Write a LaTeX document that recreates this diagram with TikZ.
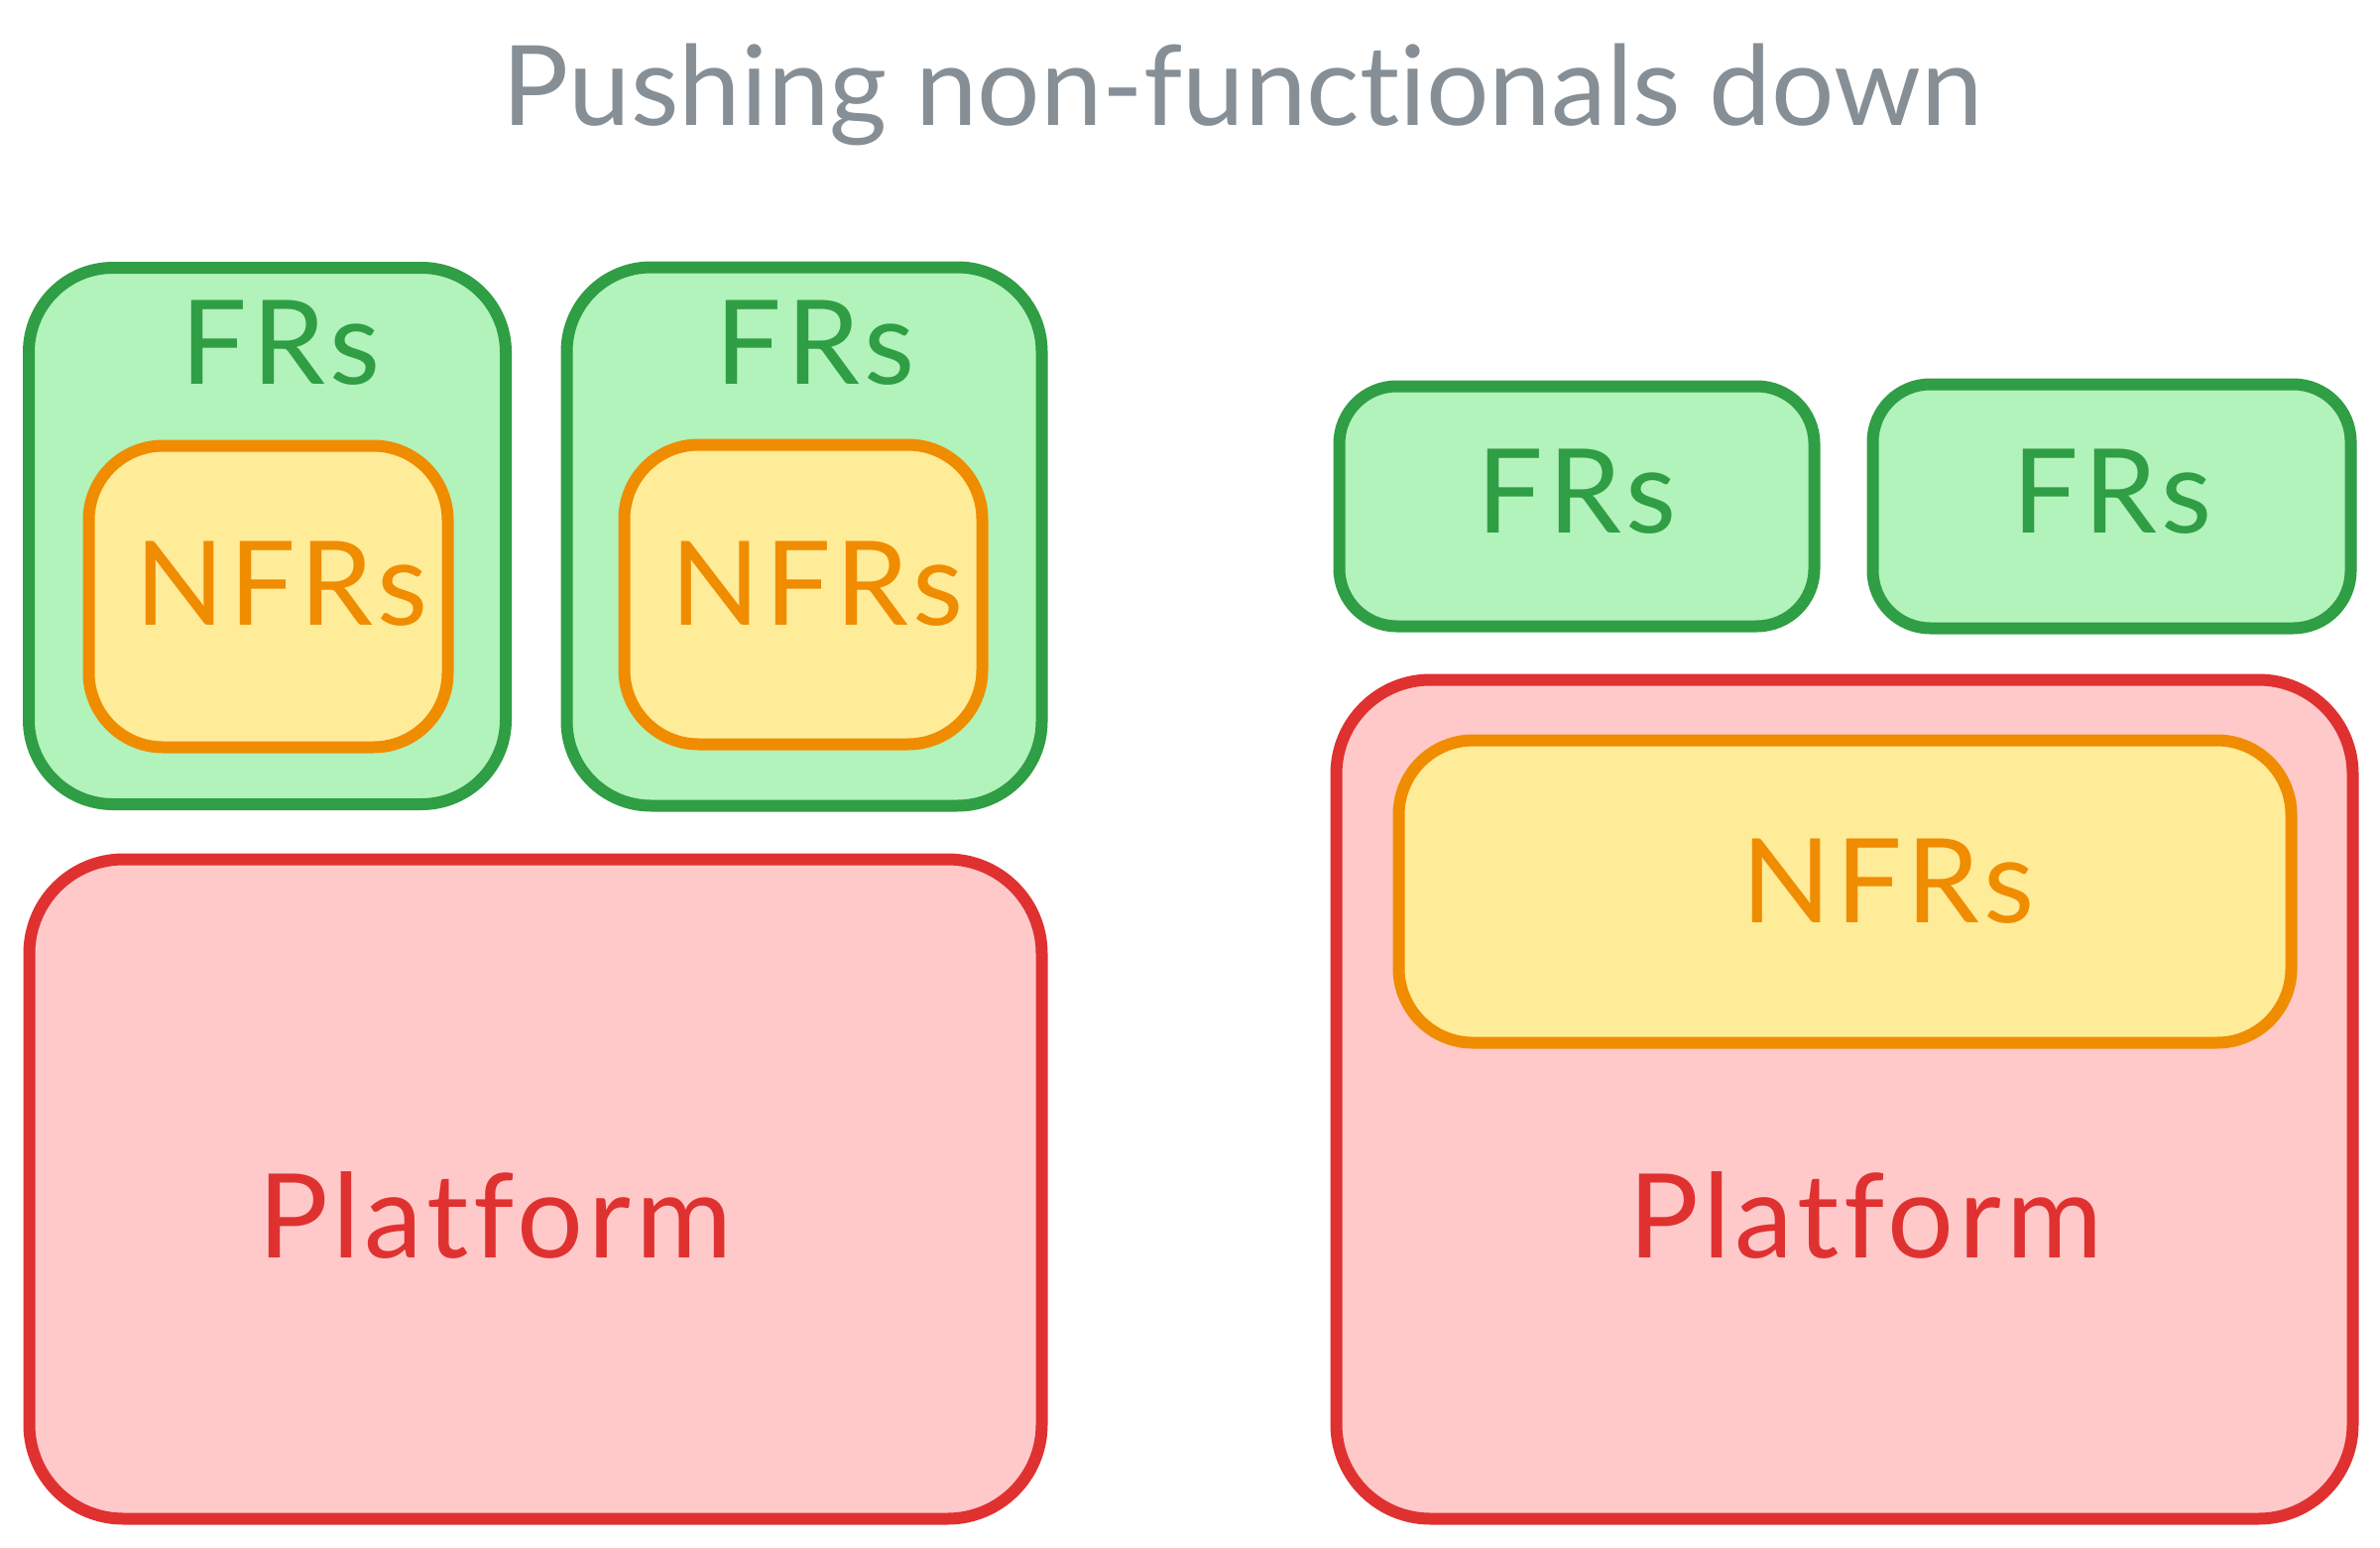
\documentclass[tikz,border=0pt]{standalone}
\usepackage{fontspec}
\setmainfont{Lato}[Ligatures={NoCommon}]
\definecolor{gstroke}{HTML}{2F9E44}
\definecolor{gfill}{HTML}{B2F2BB}
\definecolor{ystroke}{HTML}{F08C00}
\definecolor{yfill}{HTML}{FFEC99}
\definecolor{rstroke}{HTML}{E03131}
\definecolor{rfill}{HTML}{FFC9C9}
\definecolor{titlegray}{HTML}{868E96}
\newfontfamily\lblfont{Lato}[Ligatures={NoCommon}, LetterSpace=4]
\tikzset{
  box/.style={rectangle, line width=12pt, inner sep=0pt, outer sep=0pt},
  greenbox/.style={box, draw=gstroke, fill=gfill, rounded corners=85pt},
  smallgreen/.style={box, draw=gstroke, fill=gfill, rounded corners=58pt},
  yellowbox/.style={box, draw=ystroke, fill=yfill, rounded corners=75pt},
  redbox/.style={box, draw=rstroke, fill=rfill, rounded corners=95pt},
  lbl/.style={anchor=base, inner sep=0pt, font=\lblfont\fontsize{118}{140}\selectfont},
  glbl/.style={lbl, text=gstroke},
  ylbl/.style={lbl, text=ystroke},
  rlbl/.style={lbl, text=rstroke},
  titlelbl/.style={anchor=base, inner sep=0pt, text=titlegray, font=\fontsize{112}{134}\selectfont},
}
\begin{document}
\begin{tikzpicture}[x=1pt, y=-1pt]
\useasboundingbox (0,0) rectangle (2400,1560);
% title
\node[titlelbl] (title) at (1253,127) {Pushing non-functionals down};
% left column
\node[greenbox, minimum width=481pt, minimum height=541pt] (ga) at (269.5,540.5) {};
\node[yellowbox, minimum width=362pt, minimum height=304pt] (ya) at (270.5,601.5) {};
\node[glbl] (fa) at (283,387) {FRs};
\node[ylbl] (na) at (284,630) {NFRs};
\node[greenbox, minimum width=479pt, minimum height=543pt] (gb) at (811,541) {};
\node[yellowbox, minimum width=361pt, minimum height=302pt] (yb) at (810,599.5) {};
\node[glbl] (fb) at (822,387) {FRs};
\node[ylbl] (nb) at (824,630) {NFRs};
\node[redbox, minimum width=1021pt, minimum height=665pt] (rl) at (540,1199) {};
\node[rlbl] (pl) at (499,1268) {Platform};
% right column
\node[smallgreen, minimum width=479pt, minimum height=242pt] (gc) at (1590,510.5) {};
\node[glbl] (fc) at (1590,537) {FRs};
\node[smallgreen, minimum width=482pt, minimum height=246pt] (gd) at (2129.5,510.5) {};
\node[glbl] (fd) at (2130,537) {FRs};
\node[redbox, minimum width=1025pt, minimum height=846pt] (rr) at (1860,1108.5) {};
\node[yellowbox, minimum width=900pt, minimum height=305pt] (yr) at (1860.5,899) {};
\node[ylbl] (nr) at (1904,930) {NFRs};
\node[rlbl] (pr) at (1881,1268) {Platform};
\end{tikzpicture}
\end{document}
